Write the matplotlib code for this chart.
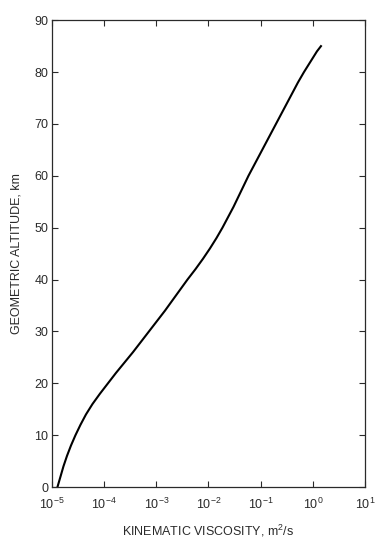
import numpy as np
import matplotlib.pyplot as plt
from matplotlib.ticker import FixedLocator, FixedFormatter

plt.rcParams['font.family'] = ['Liberation Sans', 'DejaVu Sans']
plt.rcParams['mathtext.fontset'] = 'custom'
plt.rcParams['mathtext.rm'] = 'Liberation Sans'
plt.rcParams['mathtext.it'] = 'Liberation Sans'

# altitude (km) vs kinematic viscosity (m^2/s)
altitude = [0, 2, 4, 6, 8, 10, 12, 14, 16, 18, 20, 22, 24, 26, 28, 30,
            32, 34, 36, 38, 40, 42, 44, 46, 48, 50, 52, 54, 56, 58, 60,
            62, 64, 66, 68, 70, 72, 74, 76, 78, 80, 82, 84, 85]
viscosity = [1.274e-5, 1.455e-5, 1.661e-5, 1.939e-5, 2.313e-5, 2.821e-5,
             3.518e-5, 4.485e-5, 5.974e-5, 8.318e-5, 1.184e-4, 1.686e-4,
             2.453e-4, 3.569e-4, 5.082e-4, 7.232e-4, 1.030e-3, 1.466e-3,
             2.040e-3, 2.841e-3, 3.957e-3, 5.631e-3, 7.839e-3, 1.068e-2,
             1.423e-2, 1.854e-2, 2.363e-2, 3.013e-2, 3.757e-2, 4.685e-2,
             5.840e-2, 7.447e-2, 9.493e-2, 0.1210, 0.1542, 0.1966,
             0.2506, 0.3195, 0.4073, 0.5191, 0.6767, 0.9016, 1.201, 1.433]

xticks = [1e-5, 1e-4, 1e-3, 1e-2, 1e-1, 1e0, 1e1]
xticklabels = ['$10^{-5}$', '$10^{-4}$', '$10^{-3}$', '$10^{-2}$',
               '$10^{-1}$', '$10^{0}$', '$10^{1}$']
yticks = list(range(0, 91, 10))

ink = '#2a2a2a'

fig = plt.figure(figsize=(3.85, 5.46), dpi=100)
ax = fig.add_axes([0.135, 0.108, 0.813, 0.855])

ax.plot(viscosity, altitude, color='black', lw=1.5)

ax.set_xscale('log')
ax.set_xlim(1e-5, 1e1)
ax.set_ylim(0, 90)
ax.xaxis.set_major_locator(FixedLocator(xticks))
ax.xaxis.set_major_formatter(FixedFormatter(xticklabels))
ax.xaxis.set_minor_locator(FixedLocator([]))
ax.set_yticks(yticks)

ax.tick_params(axis='both', direction='in', length=4, width=0.8,
               color=ink, labelcolor=ink, labelsize=9,
               top=True, right=True)
ax.tick_params(axis='x', pad=7)
ax.tick_params(axis='y', pad=2.5)
for s in ax.spines.values():
    s.set_color(ink)
    s.set_linewidth(0.9)

ax.set_xlabel('KINEMATIC VISCOSITY, m$^2$/s', fontsize=9, color=ink,
              labelpad=8)
ax.set_ylabel('GEOMETRIC ALTITUDE, km', fontsize=9, color=ink,
              labelpad=9)

fig.savefig('out.png', dpi=100)
